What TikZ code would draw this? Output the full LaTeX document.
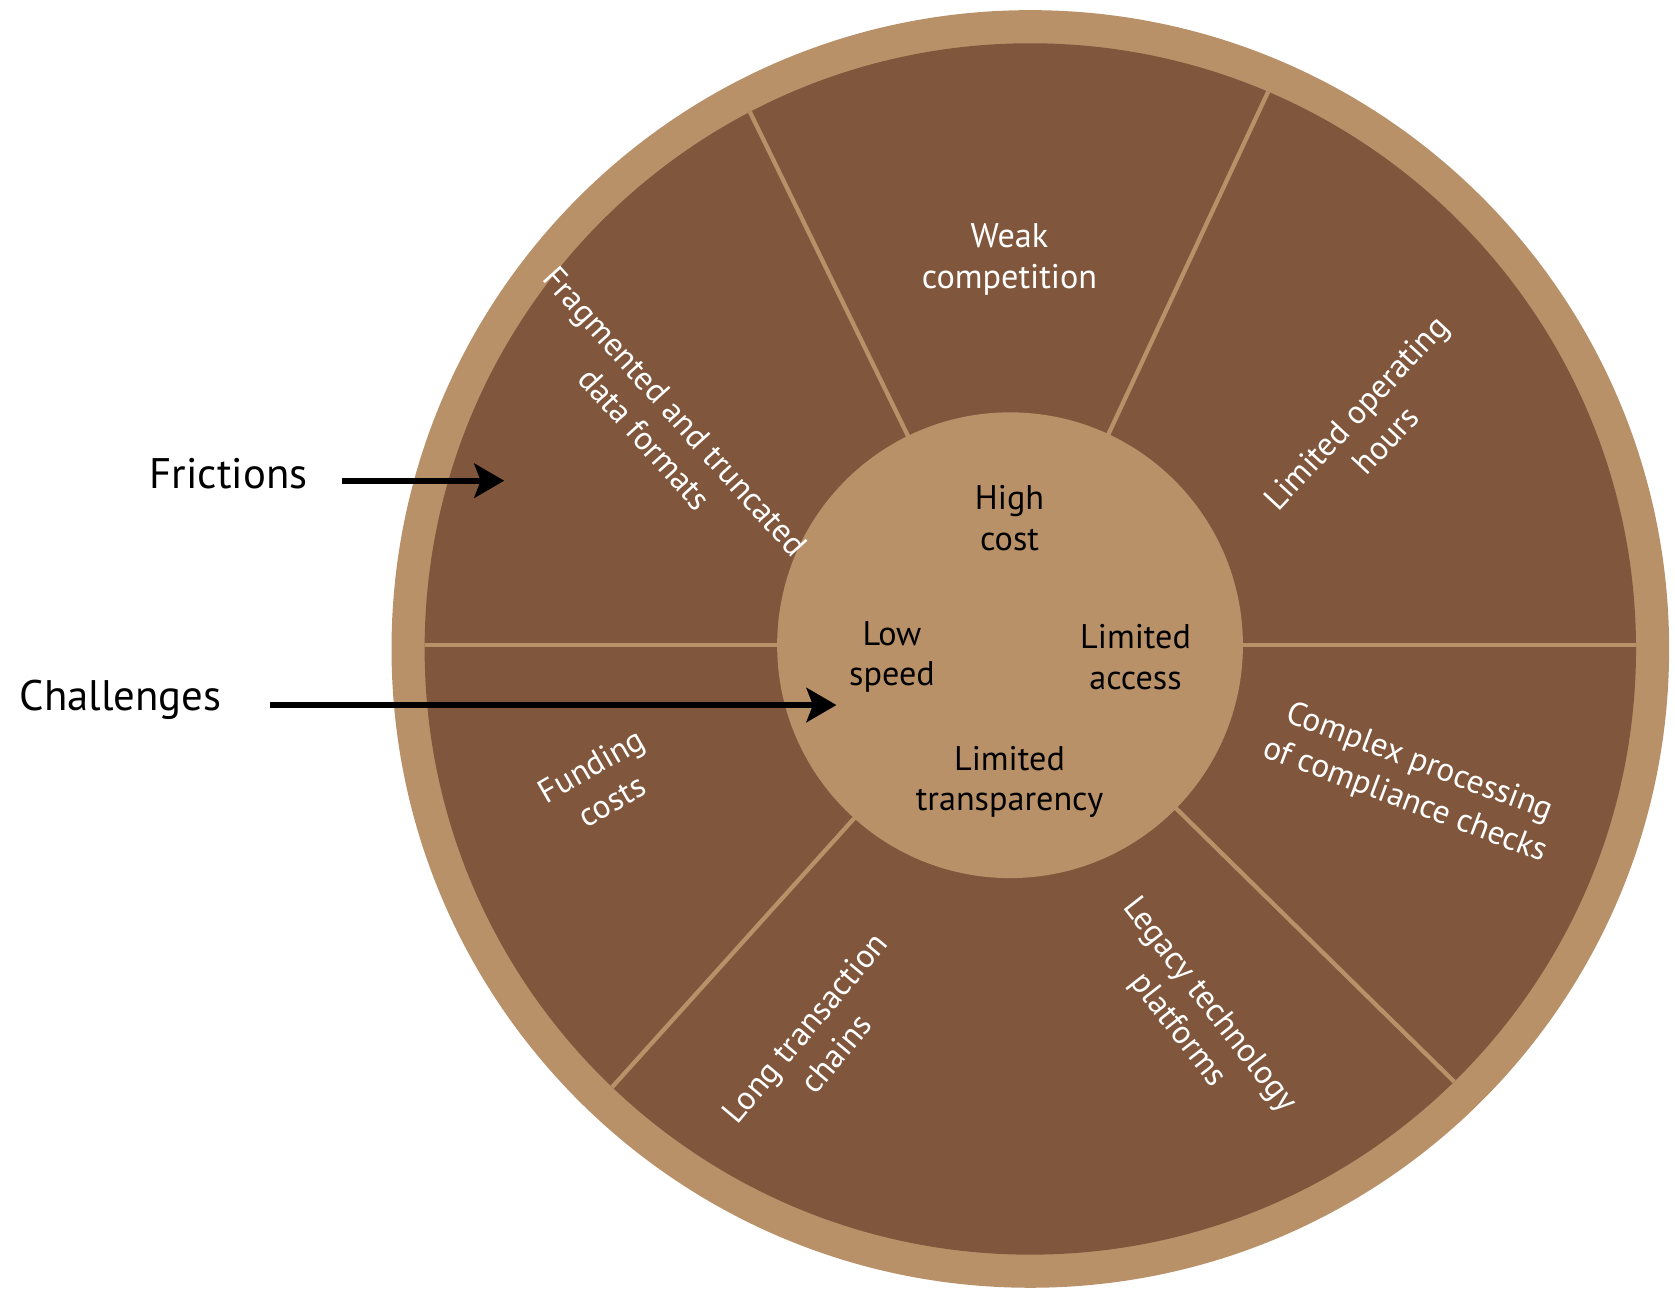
\documentclass[tikz,border=0pt]{standalone}
\usepackage{fontspec}
\setmainfont{PT Sans}
\usetikzlibrary{arrows.meta}
\definecolor{wheeltan}{HTML}{B99169}
\definecolor{wheelbrown}{HTML}{80573D}
\tikzset{
  wlab/.style={text=white, align=center, inner sep=0pt, font=\fontsize{31}{38}\selectfont},
  clab/.style={text=black, align=center, inner sep=0pt, font=\fontsize{32}{38}\selectfont},
  side/.style={text=black, inner sep=0pt, font=\fontsize{40}{48}\selectfont},
  spoke/.style={draw=wheeltan, line width=4pt},
  pointer/.style={line width=6pt, -{Stealth[length=28pt,width=32pt,inset=6pt]}},
}
\begin{document}
\begin{tikzpicture}[x=1pt,y=-1pt]
\useasboundingbox (0,0) rectangle (1568,1206);
\coordinate (oc) at (964.5,607.5);
\coordinate (ic) at (945.5,604);
\fill[wheeltan] (oc) circle[radius=598pt];
\fill[wheelbrown] (oc) circle[radius=567pt];
\begin{scope}
  \clip (oc) circle[radius=567pt];
  \foreach \a in {0,65,116,180,228,315.5}
    \draw[spoke] (ic) -- ([shift={(ic)}]\a:800pt);
\end{scope}
\fill[wheeltan] (ic) circle[radius=218pt];

\node[wlab, font=\fontsize{32}{39}\selectfont] (weak) at (945,243) {Weak\\competition};
\node[wlab, rotate=-48] (frag) at (618,398) {Fragmented and truncated\\data formats};
\node[wlab, rotate=47] (lop) at (1283,399) {Limited operating\\hours};
\node[wlab, rotate=-20.6] (cpx) at (1322,732) {Complex processing\\of compliance checks};
\node[wlab, rotate=30] (fund) at (563,733) {Funding\\costs};
\node[wlab, rotate=50] (long) at (768,974) {Long transaction\\chains};
\node[wlab, rotate=-52] (leg) at (1117,953) {Legacy technology\\platforms};

\node[clab] (high) at (945,485) {High\\cost};
\node[clab] (low) at (835,615) {Low\\speed};
\node[clab] (acc) at (1063,615) {Limited\\access};
\node[clab] (trans) at (945,732) {Limited\\transparency};

\node[side] (fric) at (214,443) {Frictions};
\node[side] (chal) at (113,655) {Challenges};

\coordinate (fs) at (320,450);
\coordinate (fe) at (472,450);
\coordinate (cs) at (253,660);
\coordinate (ce) at (783,660);
\draw[pointer] (fs) -- (fe);
\draw[pointer] (cs) -- (ce);
\end{tikzpicture}
\end{document}
